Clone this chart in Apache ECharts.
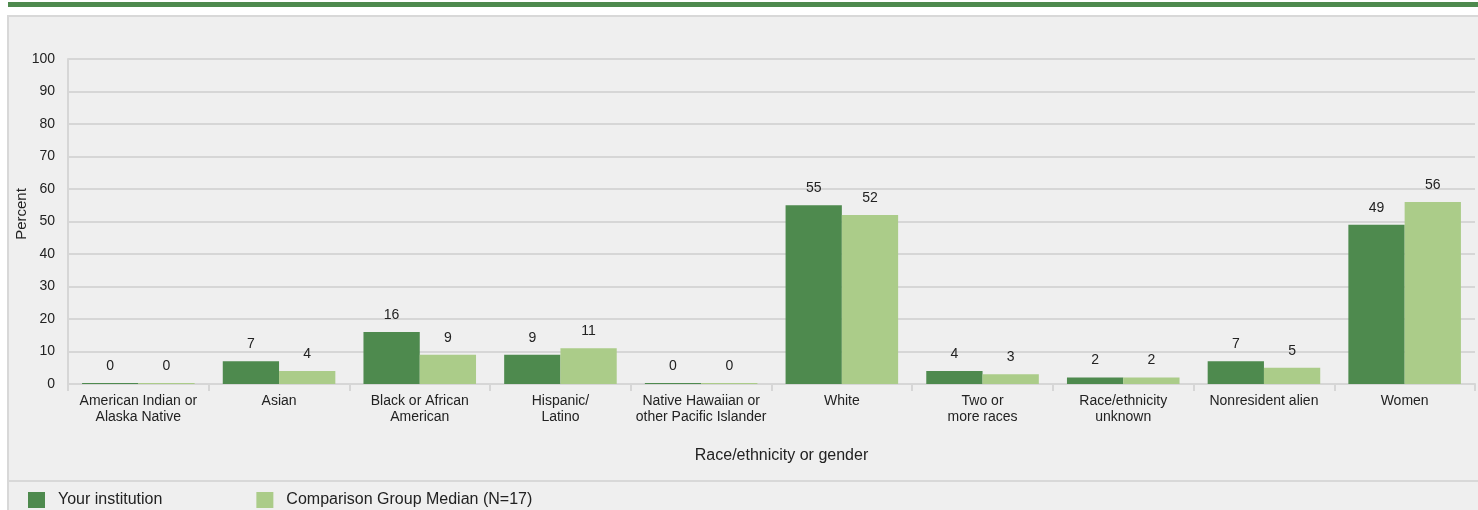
<!DOCTYPE html>
<html>
<head>
<meta charset="utf-8">
<script src="https://cdn.jsdelivr.net/npm/echarts@6/dist/echarts.min.js"></script>
<style>
html,body{margin:0;padding:0;background:#fff;}
#c{width:1478px;height:510px;}
</style>
</head>
<body>
<div id="c"></div>
<script>
var categories = [
  'American Indian or\nAlaska Native',
  'Asian',
  'Black or African\nAmerican',
  'Hispanic/\nLatino',
  'Native Hawaiian or\nother Pacific Islander',
  'White',
  'Two or\nmore races',
  'Race/ethnicity\nunknown',
  'Nonresident alien',
  'Women'
];
var yourInstitution = [0, 7, 16, 9, 0, 55, 4, 2, 7, 49];
var comparisonMedian = [0, 4, 9, 11, 0, 52, 3, 2, 5, 56];
var seriesNames = ['Your institution', 'Comparison Group Median (N=17)'];
var yAxisTitle = 'Percent';
var xAxisTitle = 'Race/ethnicity or gender';

var FONT = 'Liberation Sans, Arial, Helvetica, sans-serif';
var TXT = '#222';
var GRIDC = '#d6d6d6';

var chart = echarts.init(document.getElementById('c'));
var labelCfg = {show: true, position: 'top', distance: 10, color: TXT, fontSize: 14, fontFamily: FONT};
chart.setOption({
  backgroundColor: '#ffffff',
  animation: false,
  graphic: [
    {type: 'rect', z: -10, silent: true, shape: {x: 8, y: 2, width: 1470, height: 5}, style: {fill: '#4e8a4e'}},
    {type: 'rect', z: -10, silent: true, shape: {x: 8, y: 16, width: 1472, height: 500}, style: {fill: '#efefef', stroke: '#d8d8d8', lineWidth: 2}},
    {type: 'line', z: -9, silent: true, shape: {x1: 8, y1: 481, x2: 1478, y2: 481}, style: {stroke: '#d8d8d8', lineWidth: 2}},
    {type: 'text', silent: true, x: 22, y: 214, rotation: Math.PI / 2,
      style: {text: yAxisTitle, fill: TXT, fontSize: 15, fontFamily: FONT, align: 'center', verticalAlign: 'middle'}}
  ],
  legend: {
    left: 28, top: 492, padding: 0,
    itemWidth: 17, itemHeight: 16, itemGap: 94,
    icon: 'rect',
    textStyle: {color: TXT, fontSize: 16, fontFamily: FONT, padding: [0, 0, 0, 8]},
    data: seriesNames
  },
  grid: {left: 68, right: 3, top: 59, bottom: 126, containLabel: false, outerBoundsMode: 'none'},
  xAxis: {
    type: 'category',
    data: categories,
    name: xAxisTitle,
    nameLocation: 'middle',
    nameGap: 64,
    nameTextStyle: {color: TXT, fontSize: 16, fontFamily: FONT, padding: [0, 0, 0, 20]},
    axisLine: {lineStyle: {color: GRIDC, width: 2}},
    axisTick: {show: true, length: 7, lineStyle: {color: GRIDC, width: 2}},
    axisLabel: {color: TXT, fontSize: 14, fontFamily: FONT, margin: 9, lineHeight: 16, interval: 0}
  },
  yAxis: {
    type: 'value',
    min: 0, max: 100, interval: 10,
    axisLine: {show: true, lineStyle: {color: GRIDC, width: 2}},
    axisTick: {show: false},
    splitLine: {lineStyle: {color: GRIDC, width: 2}},
    axisLabel: {color: TXT, fontSize: 14, fontFamily: FONT, margin: 13}
  },
  series: [
    {
      name: seriesNames[0], type: 'bar', data: yourInstitution,
      barGap: '0%', barCategoryGap: '20%', barMinHeight: 1,
      itemStyle: {color: '#4e8a4e'},
      label: labelCfg
    },
    {
      name: seriesNames[1], type: 'bar', data: comparisonMedian,
      barMinHeight: 1,
      itemStyle: {color: '#abcc89'},
      label: labelCfg
    }
  ]
});
</script>
</body>
</html>
